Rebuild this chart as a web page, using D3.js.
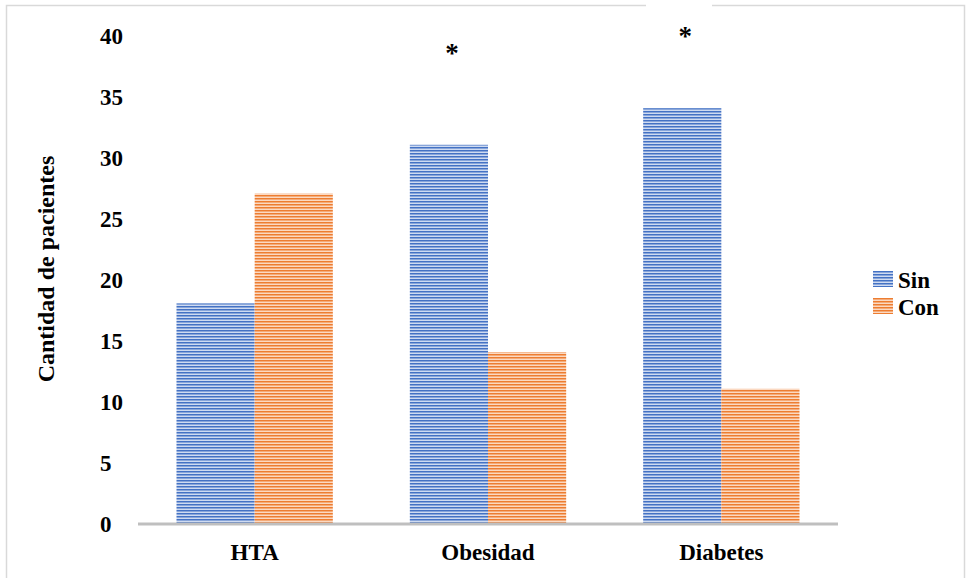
<!DOCTYPE html>
<html><head><meta charset="utf-8">
<script src="https://cdn.jsdelivr.net/npm/d3@7"></script>
<style>html,body{margin:0;padding:0;background:#fff;}svg{display:block;}</style>
</head><body>
<svg id="chart" width="966" height="578"></svg>
<script>
const categories = ["HTA", "Obesidad", "Diabetes"];
const seriesNames = ["Sin", "Con"];
const sinValues = [18, 31, 34];
const conValues = [27, 14, 11];
const yTicks = [0, 5, 10, 15, 20, 25, 30, 35, 40];
const asteriskCategories = ["Obesidad", "Diabetes"];
const asteriskLevels = [39.0, 40.4];

const svg = d3.select("#chart");
const font = "'Liberation Serif','Times New Roman',serif";
const colors = {Sin: "#4472c4", Con: "#ed7d31"};
const light = {Sin: "#cfdbf1", Con: "#fbd9c2"};

const defs = svg.append("defs");
seriesNames.forEach(s => {
  const p = defs.append("pattern").attr("id", "pat-" + s)
    .attr("patternUnits", "userSpaceOnUse").attr("width", 6).attr("height", 3);
  p.append("rect").attr("width", 6).attr("height", 3).attr("fill", light[s]);
  p.append("rect").attr("width", 6).attr("height", 1.5).attr("fill", colors[s]);
});

// frame
const frame = svg.append("g").attr("stroke", "#d9d9d9").attr("stroke-width", 1.5).attr("fill", "none");
frame.append("path").attr("d", "M6.5,578 L6.5,5.5 L646,5.5 M712,5.5 L964.5,5.5 L964.5,578");

const y = d3.scaleLinear().domain([0, 40]).range([523, 35]);
const x0 = d3.scaleBand().domain(categories).range([138, 838]).paddingInner(0.33).paddingOuter(0.165);
const x1 = d3.scaleBand().domain(seriesNames).range([0, x0.bandwidth()]);

const data = categories.map((c, i) => ({cat: c, vals: [{s: "Sin", v: sinValues[i]}, {s: "Con", v: conValues[i]}]}));

const groups = svg.append("g").selectAll("g").data(data).join("g")
  .attr("transform", d => `translate(${x0(d.cat)},0)`);
groups.selectAll("rect").data(d => d.vals).join("rect")
  .attr("x", d => x1(d.s)).attr("width", x1.bandwidth())
  .attr("y", d => y(d.v)).attr("height", d => y(0) - y(d.v))
  .attr("fill", d => `url(#pat-${d.s})`);

// x axis baseline
svg.append("line").attr("x1", 138).attr("x2", 838).attr("y1", y(0) + 1).attr("y2", y(0) + 1)
  .attr("stroke", "#bfbfbf").attr("stroke-width", 3);

// y tick labels
const yAxis = d3.axisLeft(y).tickValues(yTicks).tickSize(0).tickPadding(0);
const yg = svg.append("g").attr("transform", "translate(100,0)").call(yAxis);
yg.select(".domain").remove();
yg.selectAll("text").attr("text-anchor", "start").attr("x", 0).attr("dy", "0.35em")
  .attr("font-family", font).attr("font-weight", "bold").attr("font-size", 23).attr("fill", "#000");

// x labels
const xAxis = d3.axisBottom(x0).tickSize(0).tickPadding(0);
const xg = svg.append("g").attr("transform", "translate(0,560)").call(xAxis);
xg.select(".domain").remove();
xg.selectAll("text").attr("dy", 0).attr("y", 0)
  .attr("font-family", font).attr("font-weight", "bold").attr("font-size", 23).attr("fill", "#000");

// y title
svg.append("text").attr("transform", "translate(54,269) rotate(-90)")
  .attr("text-anchor", "middle").attr("font-family", font).attr("font-weight", "bold")
  .attr("font-size", 24).text("Cantidad de pacientes");

// asterisks
asteriskCategories.forEach((c, i) => {
  svg.append("text").attr("x", x0(c) + x1("Sin") + x1.bandwidth() / 2 + 3)
    .attr("y", y(asteriskLevels[i]) + 15).attr("text-anchor", "middle")
    .attr("font-family", font).attr("font-weight", "bold").attr("font-size", 27).text("*");
});

// legend
const lg = svg.append("g").attr("transform", "translate(873,271)");
seriesNames.forEach((s, i) => {
  lg.append("rect").attr("x", 0).attr("y", i * 27).attr("width", 20).attr("height", 16)
    .attr("fill", `url(#pat-${s})`);
  lg.append("text").attr("x", 25).attr("y", i * 27 + 17).attr("font-family", font)
    .attr("font-weight", "bold").attr("font-size", 23).text(s);
});
</script>
</body></html>
